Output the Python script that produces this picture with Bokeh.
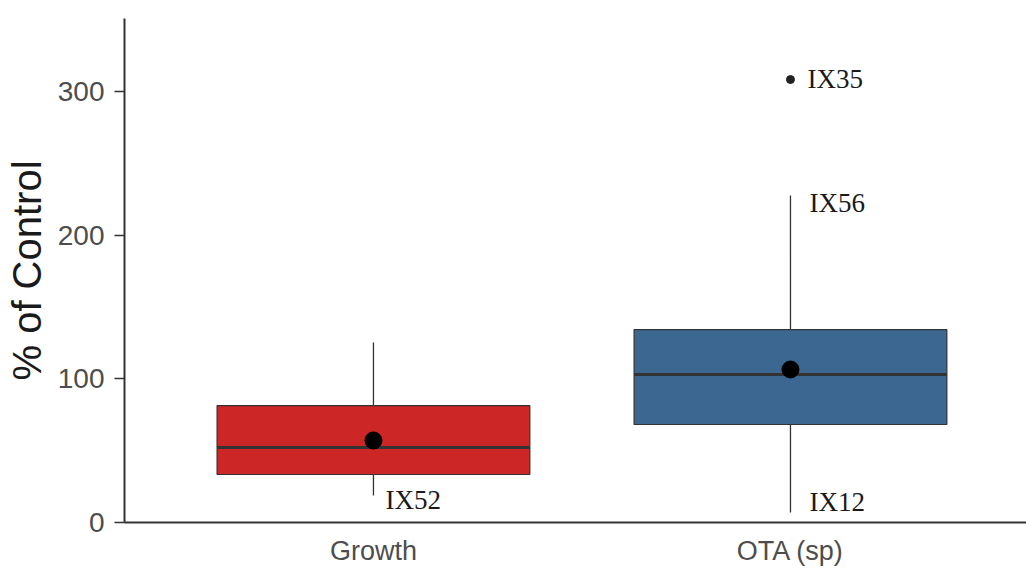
import numpy as np
from bokeh.plotting import figure
from bokeh.models import Range1d, FixedTicker, ColumnDataSource
from bokeh.core.properties import value
from bokeh.embed import file_html
from bokeh.resources import INLINE

# ---- data ----
categories = ["Growth", "OTA (sp)"]
q1 = [33.4, 68.2]
median = [52.2, 103.0]
q3 = [81.4, 134.3]
whisker_low = [18.8, 7.0]
whisker_high = [125.3, 227.6]
means = [57.1, 106.5]
fill_colors = ["#CD2626", "#3B6791"]

outlier_cat = [1]
outlier_val = [308.3]

label_text = ["IX52", "IX35", "IX56", "IX12"]
label_cat = [0, 1, 1, 1]
label_val = [16.0, 309.0, 222.7, 14.6]

y_ticks = [0, 100, 200, 300]

# ---- figure ----
xs = np.arange(len(categories))
bw = 0.75

p = figure(width=1026, height=569, output_backend="svg", toolbar_location=None,
           x_range=Range1d(-0.597, 1.566), y_range=Range1d(0, 350.8),
           min_border_left=124, min_border_top=18, min_border_right=0,
           min_border_bottom=47)
p.outline_line_color = None
p.xgrid.visible = False
p.ygrid.visible = False
p.background_fill_color = "white"
p.border_fill_color = "white"

# whiskers
p.segment(x0=xs, x1=xs, y0=q3, y1=whisker_high, line_color="#333333", line_width=1.3)
p.segment(x0=xs, x1=xs, y0=q1, y1=whisker_low, line_color="#333333", line_width=1.3)

# boxes
p.vbar(x=xs, width=bw, bottom=q1, top=q3, fill_color=fill_colors,
       line_color="#333333", line_width=1.2)

# medians
p.segment(x0=xs - bw / 2, x1=xs + bw / 2, y0=median, y1=median,
          line_color="#333333", line_width=3)

# means
p.scatter(x=xs, y=means, size=17, fill_color="black", line_color="black")

# outlier
p.scatter(x=outlier_cat, y=outlier_val, size=8, fill_color="#222222", line_color="#222222")

# labels
src = ColumnDataSource(dict(x=label_cat, y=label_val, t=label_text,
                            dx=[12, 17, 19, 19]))
p.text(x="x", y="y", text="t", x_offset="dx", source=src,
       text_font=value("Liberation Serif"), text_font_size="27px",
       text_color="#1a1a1a", text_baseline="middle", text_align="left")

# axes
xa = p.xaxis[0]
xa.ticker = FixedTicker(ticks=list(xs))
xa.major_label_overrides = {int(i): c for i, c in zip(xs, categories)}
xa.major_tick_out = 0
xa.major_tick_in = 0
xa.major_tick_line_color = None
xa.minor_tick_line_color = None
xa.minor_tick_out = 0
xa.axis_line_color = "#333333"
xa.axis_line_width = 2
xa.axis_label_standoff = 0
xa.major_label_text_font = "Liberation Sans"
xa.major_label_text_font_size = "27px"
xa.major_label_text_color = "#4d4d4d"
xa.major_label_standoff = 13

ya = p.yaxis[0]
ya.ticker = FixedTicker(ticks=y_ticks)
ya.axis_label = "% of Control"
ya.axis_label_text_font = "Liberation Sans"
ya.axis_label_text_font_size = "40px"
ya.axis_label_text_font_style = "normal"
ya.axis_label_text_color = "#1a1a1a"
ya.axis_label_standoff = 6
ya.major_label_text_font = "Liberation Sans"
ya.major_label_text_font_size = "28px"
ya.major_label_text_color = "#4d4d4d"
ya.major_label_standoff = 10
ya.major_tick_out = 10
ya.major_tick_in = 0
ya.major_tick_line_color = "#333333"
ya.major_tick_line_width = 1.5
ya.minor_tick_line_color = None
ya.minor_tick_out = 0
ya.axis_line_color = "#333333"
ya.axis_line_width = 2

open("out.html", "w").write(file_html(p, INLINE))
